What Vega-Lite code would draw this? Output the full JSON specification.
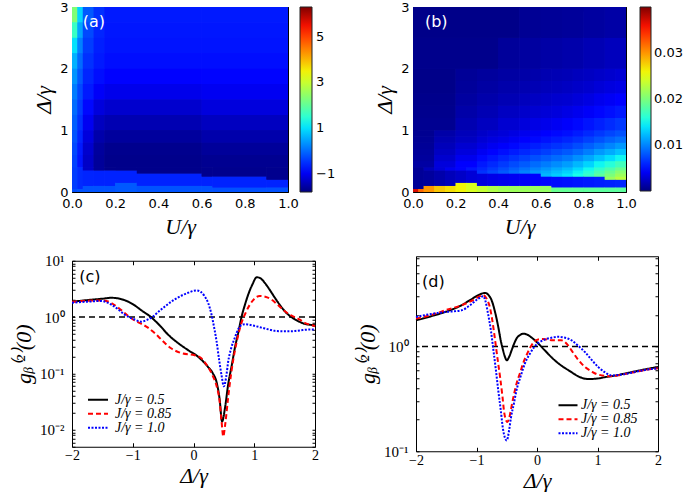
{
"$schema": "https://vega.github.io/schema/vega-lite/v6.json",
"background": "white",
"padding": {"left": 12, "top": 0, "right": 0, "bottom": 0},
"config": {
  "view": {"stroke": "black", "strokeWidth": 1},
  "axis": {"grid": false, "domain": false, "labelFlush": false, "tickColor": "black", "tickSize": -4, "tickWidth": 1, "labelPadding": 8, "labelFont": "DejaVu Sans", "labelFontSize": 13, "labelColor": "black", "titleFont": "Liberation Serif", "titleFontStyle": "italic", "titleFontWeight": "normal", "titleFontSize": 22, "titleColor": "black"},
  "legend": {"labelFont": "DejaVu Sans", "labelFontSize": 13, "labelColor": "black"}
},
"spacing": 15,
"resolve": {"scale": {"x": "independent", "y": "independent", "color": "independent", "strokeDash": "independent"}, "axis": {"x": "independent", "y": "independent"}, "legend": {"color": "independent", "strokeDash": "independent"}},
"vconcat": [
{
  "hconcat": [
  {
    "width": 216, "height": 185,
    "data": {"values": [
{"u0":0,"u1":0.025,"d0":2.75,"d1":3,"v":2.3},{"u0":0.025,"u1":0.05,"d0":2.75,"d1":3,"v":0.9},{"u0":0.05,"u1":0.1,"d0":2.75,"d1":3,"v":-0.15},{"u0":0.1,"u1":0.15,"d0":2.75,"d1":3,"v":-0.5},{"u0":0.15,"u1":0.6,"d0":2.75,"d1":3,"v":-0.7},{"u0":0.6,"u1":1,"d0":2.75,"d1":3,"v":-0.7},
{"u0":0,"u1":0.025,"d0":2.5,"d1":2.75,"v":1.6},{"u0":0.025,"u1":0.05,"d0":2.5,"d1":2.75,"v":0.5},{"u0":0.05,"u1":0.1,"d0":2.5,"d1":2.75,"v":-0.3},{"u0":0.1,"u1":0.15,"d0":2.5,"d1":2.75,"v":-0.6},{"u0":0.15,"u1":0.6,"d0":2.5,"d1":2.75,"v":-0.72},{"u0":0.6,"u1":1,"d0":2.5,"d1":2.75,"v":-0.72},
{"u0":0,"u1":0.025,"d0":2.25,"d1":2.5,"v":1.0},{"u0":0.025,"u1":0.05,"d0":2.25,"d1":2.5,"v":0.2},{"u0":0.05,"u1":0.1,"d0":2.25,"d1":2.5,"v":-0.4},{"u0":0.1,"u1":0.15,"d0":2.25,"d1":2.5,"v":-0.65},{"u0":0.15,"u1":0.6,"d0":2.25,"d1":2.5,"v":-0.75},{"u0":0.6,"u1":1,"d0":2.25,"d1":2.5,"v":-0.75},
{"u0":0,"u1":0.025,"d0":2.0,"d1":2.25,"v":0.6},{"u0":0.025,"u1":0.05,"d0":2.0,"d1":2.25,"v":0.0},{"u0":0.05,"u1":0.1,"d0":2.0,"d1":2.25,"v":-0.5},{"u0":0.1,"u1":0.15,"d0":2.0,"d1":2.25,"v":-0.7},{"u0":0.15,"u1":0.6,"d0":2.0,"d1":2.25,"v":-0.8},{"u0":0.6,"u1":1,"d0":2.0,"d1":2.25,"v":-0.8},
{"u0":0,"u1":0.025,"d0":1.75,"d1":2.0,"v":0.35},{"u0":0.025,"u1":0.05,"d0":1.75,"d1":2.0,"v":-0.15},{"u0":0.05,"u1":0.1,"d0":1.75,"d1":2.0,"v":-0.6},{"u0":0.1,"u1":0.15,"d0":1.75,"d1":2.0,"v":-0.8},{"u0":0.15,"u1":0.6,"d0":1.75,"d1":2.0,"v":-0.9},{"u0":0.6,"u1":1,"d0":1.75,"d1":2.0,"v":-0.88},
{"u0":0,"u1":0.025,"d0":1.5,"d1":1.75,"v":0.15},{"u0":0.025,"u1":0.05,"d0":1.5,"d1":1.75,"v":-0.3},{"u0":0.05,"u1":0.1,"d0":1.5,"d1":1.75,"v":-0.7},{"u0":0.1,"u1":0.15,"d0":1.5,"d1":1.75,"v":-0.95},{"u0":0.15,"u1":0.6,"d0":1.5,"d1":1.75,"v":-1.05},{"u0":0.6,"u1":1,"d0":1.5,"d1":1.75,"v":-1.0},
{"u0":0,"u1":0.025,"d0":1.25,"d1":1.5,"v":0.0},{"u0":0.025,"u1":0.05,"d0":1.25,"d1":1.5,"v":-0.4},{"u0":0.05,"u1":0.1,"d0":1.25,"d1":1.5,"v":-0.85},{"u0":0.1,"u1":0.15,"d0":1.25,"d1":1.5,"v":-1.15},{"u0":0.15,"u1":0.6,"d0":1.25,"d1":1.5,"v":-1.25},{"u0":0.6,"u1":1,"d0":1.25,"d1":1.5,"v":-1.15},
{"u0":0,"u1":0.025,"d0":1.0,"d1":1.25,"v":-0.1},{"u0":0.025,"u1":0.05,"d0":1.0,"d1":1.25,"v":-0.5},{"u0":0.05,"u1":0.1,"d0":1.0,"d1":1.25,"v":-1.0},{"u0":0.1,"u1":0.15,"d0":1.0,"d1":1.25,"v":-1.35},{"u0":0.15,"u1":0.6,"d0":1.0,"d1":1.25,"v":-1.45},{"u0":0.6,"u1":1,"d0":1.0,"d1":1.25,"v":-1.35},
{"u0":0,"u1":0.025,"d0":0.8,"d1":1.0,"v":-0.2},{"u0":0.025,"u1":0.05,"d0":0.8,"d1":1.0,"v":-0.6},{"u0":0.05,"u1":0.1,"d0":0.8,"d1":1.0,"v":-1.15},{"u0":0.1,"u1":0.15,"d0":0.8,"d1":1.0,"v":-1.5},{"u0":0.15,"u1":0.6,"d0":0.8,"d1":1.0,"v":-1.6},{"u0":0.6,"u1":1,"d0":0.8,"d1":1.0,"v":-1.5},
{"u0":0,"u1":0.025,"d0":0.6,"d1":0.8,"v":-0.3},{"u0":0.025,"u1":0.05,"d0":0.6,"d1":0.8,"v":-0.7},{"u0":0.05,"u1":0.1,"d0":0.6,"d1":0.8,"v":-1.25},{"u0":0.1,"u1":0.15,"d0":0.6,"d1":0.8,"v":-1.6},{"u0":0.15,"u1":0.6,"d0":0.6,"d1":0.8,"v":-1.7},{"u0":0.6,"u1":1,"d0":0.6,"d1":0.8,"v":-1.62},
{"u0":0,"u1":0.025,"d0":0.4,"d1":0.6,"v":-0.35},{"u0":0.025,"u1":0.05,"d0":0.4,"d1":0.6,"v":-0.75},{"u0":0.05,"u1":0.1,"d0":0.4,"d1":0.6,"v":-1.3},{"u0":0.1,"u1":0.15,"d0":0.4,"d1":0.6,"v":-1.62},{"u0":0.15,"u1":0.6,"d0":0.4,"d1":0.6,"v":-1.72},{"u0":0.6,"u1":1,"d0":0.4,"d1":0.6,"v":-1.68},
{"u0":0,"u1":0.025,"d0":0,"d1":0.05,"v":-0.25},{"u0":0,"u1":0.025,"d0":0.05,"d1":0.4,"v":-0.4},
{"u0":0.025,"u1":0.05,"d0":0,"d1":0.05,"v":-0.2},{"u0":0.025,"u1":0.05,"d0":0.05,"d1":0.4,"v":-0.55},
{"u0":0.05,"u1":0.1,"d0":0,"d1":0.1,"v":-0.2},{"u0":0.05,"u1":0.1,"d0":0.1,"d1":0.35,"v":-0.6},{"u0":0.05,"u1":0.1,"d0":0.35,"d1":0.4,"v":-1.3},
{"u0":0.1,"u1":0.15,"d0":0,"d1":0.1,"v":-0.2},{"u0":0.1,"u1":0.15,"d0":0.1,"d1":0.35,"v":-0.62},{"u0":0.1,"u1":0.15,"d0":0.35,"d1":0.4,"v":-1.62},
{"u0":0.15,"u1":0.2,"d0":0,"d1":0.1,"v":-0.2},{"u0":0.15,"u1":0.2,"d0":0.1,"d1":0.35,"v":-0.62},{"u0":0.15,"u1":0.2,"d0":0.35,"d1":0.4,"v":-1.72},
{"u0":0.2,"u1":0.3,"d0":0,"d1":0.15,"v":-0.15},{"u0":0.2,"u1":0.3,"d0":0.15,"d1":0.35,"v":-0.62},{"u0":0.2,"u1":0.3,"d0":0.35,"d1":0.4,"v":-1.72},
{"u0":0.3,"u1":0.6,"d0":0,"d1":0.1,"v":-0.2},{"u0":0.3,"u1":0.6,"d0":0.1,"d1":0.3,"v":-0.62},{"u0":0.3,"u1":0.6,"d0":0.3,"d1":0.4,"v":-1.72},
{"u0":0.6,"u1":0.65,"d0":0,"d1":0.1,"v":-0.2},{"u0":0.6,"u1":0.65,"d0":0.1,"d1":0.25,"v":-0.62},{"u0":0.6,"u1":0.65,"d0":0.25,"d1":0.4,"v":-1.7},
{"u0":0.65,"u1":0.9,"d0":0,"d1":0.075,"v":-0.22},{"u0":0.65,"u1":0.9,"d0":0.075,"d1":0.25,"v":-0.62},{"u0":0.65,"u1":0.9,"d0":0.25,"d1":0.4,"v":-1.7},
{"u0":0.9,"u1":1,"d0":0,"d1":0.075,"v":-0.22},{"u0":0.9,"u1":1,"d0":0.075,"d1":0.2,"v":-0.62},{"u0":0.9,"u1":1,"d0":0.2,"d1":0.4,"v":-1.7}
    ]},
    "layer": [
    {
      "encoding": {
        "x": {"field": "u0", "type": "quantitative", "scale": {"domain": [0, 1], "nice": false, "zero": false}, "axis": {"values": [0, 0.2, 0.4, 0.6, 0.8, 1], "format": ".1f", "title": "U/γ", "titlePadding": 6, "labelPadding": 9}},
        "x2": {"field": "u1"},
        "y": {"field": "d0", "type": "quantitative", "scale": {"domain": [0, 3], "nice": false}, "axis": {"values": [0, 1, 2, 3], "format": "d", "title": "Δ/γ", "titlePadding": 4}},
        "y2": {"field": "d1"},
        "color": {"field": "v", "type": "quantitative", "scale": {"domain": [-1.8, -0.909, 0.954, 1.2375, 2.25, 3.384, 4.275, 5.409, 6.3], "range": ["#000080", "#0000ff", "#00dbff", "#14ffef", "#7bff7b", "#f0ff08", "#ff9600", "#ff1200", "#800000"], "interpolate": "rgb"},
          "legend": {"type": "gradient", "title": null, "orient": "right", "offset": 11, "padding": 0, "gradientLength": 185, "gradientThickness": 12, "values": [-1, 1, 3, 5], "labelOverlap": false, "labelOffset": 4, "gradientStrokeColor": "#222", "gradientStrokeWidth": 1}}
      },
      "layer": [{"mark": {"type": "rect"}}, {"mark": {"type": "rect"}}, {"mark": {"type": "rect"}}]
    },
    {
      "data": {"values": [{"lab": "(a)"}]},
      "mark": {"type": "text", "color": "white", "fontSize": 16, "font": "DejaVu Sans", "align": "left", "baseline": "middle"},
      "encoding": {
        "x": {"datum": 0.05, "type": "quantitative", "axis": {"orient": "top", "values": [0, 0.2, 0.4, 0.6, 0.8, 1], "labels": false, "title": null}},
        "y": {"datum": 2.76, "type": "quantitative", "axis": {"orient": "right", "values": [0, 1, 2, 3], "labels": false, "title": null}},
        "text": {"field": "lab"}}
    }
    ],
    "resolve": {"axis": {"x": "independent", "y": "independent"}}
  },
  {
    "width": 213, "height": 185,
    "data": {"values": [
{"u0":0,"u1":0.025,"d0":0,"d1":0.05,"v":0.037},{"u0":0.025,"u1":0.05,"d0":0,"d1":0.05,"v":0.032},{"u0":0,"u1":0.05,"d0":0.05,"d1":0.4,"v":0.0008},
{"u0":0.05,"u1":0.1,"d0":0,"d1":0.1,"v":0.03},{"u0":0.05,"u1":0.1,"d0":0.1,"d1":0.35,"v":0.001},{"u0":0.05,"u1":0.1,"d0":0.35,"d1":0.4,"v":0.002},
{"u0":0.1,"u1":0.15,"d0":0,"d1":0.1,"v":0.028},{"u0":0.1,"u1":0.15,"d0":0.1,"d1":0.35,"v":0.0015},{"u0":0.1,"u1":0.15,"d0":0.35,"d1":0.4,"v":0.0031},
{"u0":0.15,"u1":0.2,"d0":0,"d1":0.1,"v":0.027},{"u0":0.15,"u1":0.2,"d0":0.1,"d1":0.35,"v":0.002},{"u0":0.15,"u1":0.2,"d0":0.35,"d1":0.4,"v":0.0039},
{"u0":0.2,"u1":0.25,"d0":0,"d1":0.15,"v":0.026},{"u0":0.2,"u1":0.25,"d0":0.15,"d1":0.35,"v":0.0025},{"u0":0.2,"u1":0.25,"d0":0.35,"d1":0.4,"v":0.0045},
{"u0":0.25,"u1":0.3,"d0":0,"d1":0.15,"v":0.0245},{"u0":0.25,"u1":0.3,"d0":0.15,"d1":0.35,"v":0.003},{"u0":0.25,"u1":0.3,"d0":0.35,"d1":0.4,"v":0.0053},
{"u0":0.3,"u1":0.35,"d0":0,"d1":0.1,"v":0.0235},{"u0":0.3,"u1":0.35,"d0":0.1,"d1":0.3,"v":0.0033},{"u0":0.3,"u1":0.35,"d0":0.3,"d1":0.35,"v":0.0065},{"u0":0.3,"u1":0.35,"d0":0.35,"d1":0.4,"v":0.006},
{"u0":0.35,"u1":0.4,"d0":0,"d1":0.1,"v":0.0225},{"u0":0.35,"u1":0.4,"d0":0.1,"d1":0.3,"v":0.0036},{"u0":0.35,"u1":0.4,"d0":0.3,"d1":0.35,"v":0.0074},{"u0":0.35,"u1":0.4,"d0":0.35,"d1":0.4,"v":0.0068},
{"u0":0.4,"u1":0.45,"d0":0,"d1":0.1,"v":0.0218},{"u0":0.4,"u1":0.45,"d0":0.1,"d1":0.3,"v":0.0038},{"u0":0.4,"u1":0.45,"d0":0.3,"d1":0.35,"v":0.0082},{"u0":0.4,"u1":0.45,"d0":0.35,"d1":0.4,"v":0.0076},
{"u0":0.45,"u1":0.5,"d0":0,"d1":0.1,"v":0.0216},{"u0":0.45,"u1":0.5,"d0":0.1,"d1":0.3,"v":0.004},{"u0":0.45,"u1":0.5,"d0":0.3,"d1":0.35,"v":0.009},{"u0":0.45,"u1":0.5,"d0":0.35,"d1":0.4,"v":0.0084},
{"u0":0.5,"u1":0.55,"d0":0,"d1":0.1,"v":0.0215},{"u0":0.5,"u1":0.55,"d0":0.1,"d1":0.3,"v":0.0042},{"u0":0.5,"u1":0.55,"d0":0.3,"d1":0.35,"v":0.0099},{"u0":0.5,"u1":0.55,"d0":0.35,"d1":0.4,"v":0.0092},
{"u0":0.55,"u1":0.6,"d0":0,"d1":0.1,"v":0.0214},{"u0":0.55,"u1":0.6,"d0":0.1,"d1":0.3,"v":0.0044},{"u0":0.55,"u1":0.6,"d0":0.3,"d1":0.35,"v":0.0107},{"u0":0.55,"u1":0.6,"d0":0.35,"d1":0.4,"v":0.0099},
{"u0":0.6,"u1":0.65,"d0":0,"d1":0.1,"v":0.0212},{"u0":0.6,"u1":0.65,"d0":0.1,"d1":0.25,"v":0.0046},{"u0":0.6,"u1":0.65,"d0":0.25,"d1":0.3,"v":0.0121},{"u0":0.6,"u1":0.65,"d0":0.3,"d1":0.35,"v":0.0116},{"u0":0.6,"u1":0.65,"d0":0.35,"d1":0.4,"v":0.0107},
{"u0":0.65,"u1":0.7,"d0":0,"d1":0.075,"v":0.019},{"u0":0.65,"u1":0.7,"d0":0.075,"d1":0.25,"v":0.0048},{"u0":0.65,"u1":0.7,"d0":0.25,"d1":0.3,"v":0.013},{"u0":0.65,"u1":0.7,"d0":0.3,"d1":0.35,"v":0.0124},{"u0":0.65,"u1":0.7,"d0":0.35,"d1":0.4,"v":0.0115},
{"u0":0.7,"u1":0.75,"d0":0,"d1":0.075,"v":0.0188},{"u0":0.7,"u1":0.75,"d0":0.075,"d1":0.25,"v":0.005},{"u0":0.7,"u1":0.75,"d0":0.25,"d1":0.3,"v":0.0139},{"u0":0.7,"u1":0.75,"d0":0.3,"d1":0.35,"v":0.0132},{"u0":0.7,"u1":0.75,"d0":0.35,"d1":0.4,"v":0.0123},
{"u0":0.75,"u1":0.8,"d0":0,"d1":0.075,"v":0.0187},{"u0":0.75,"u1":0.8,"d0":0.075,"d1":0.25,"v":0.0052},{"u0":0.75,"u1":0.8,"d0":0.25,"d1":0.3,"v":0.0152},{"u0":0.75,"u1":0.8,"d0":0.3,"d1":0.35,"v":0.0145},{"u0":0.75,"u1":0.8,"d0":0.35,"d1":0.4,"v":0.0135},
{"u0":0.8,"u1":0.85,"d0":0,"d1":0.075,"v":0.0186},{"u0":0.8,"u1":0.85,"d0":0.075,"d1":0.25,"v":0.0054},{"u0":0.8,"u1":0.85,"d0":0.25,"d1":0.3,"v":0.0167},{"u0":0.8,"u1":0.85,"d0":0.3,"d1":0.35,"v":0.016},{"u0":0.8,"u1":0.85,"d0":0.35,"d1":0.4,"v":0.0148},
{"u0":0.85,"u1":0.9,"d0":0,"d1":0.075,"v":0.0185},{"u0":0.85,"u1":0.9,"d0":0.075,"d1":0.25,"v":0.0056},{"u0":0.85,"u1":0.9,"d0":0.25,"d1":0.3,"v":0.0185},{"u0":0.85,"u1":0.9,"d0":0.3,"d1":0.35,"v":0.0176},{"u0":0.85,"u1":0.9,"d0":0.35,"d1":0.4,"v":0.0164},
{"u0":0.9,"u1":0.95,"d0":0,"d1":0.075,"v":0.0185},{"u0":0.9,"u1":0.95,"d0":0.075,"d1":0.2,"v":0.0058},{"u0":0.9,"u1":0.95,"d0":0.2,"d1":0.25,"v":0.0214},{"u0":0.9,"u1":0.95,"d0":0.25,"d1":0.3,"v":0.02},{"u0":0.9,"u1":0.95,"d0":0.3,"d1":0.35,"v":0.0191},{"u0":0.9,"u1":0.95,"d0":0.35,"d1":0.4,"v":0.0177},
{"u0":0.95,"u1":1,"d0":0,"d1":0.075,"v":0.0185},{"u0":0.95,"u1":1,"d0":0.075,"d1":0.2,"v":0.006},{"u0":0.95,"u1":1,"d0":0.2,"d1":0.25,"v":0.023},{"u0":0.95,"u1":1,"d0":0.25,"d1":0.3,"v":0.0216},{"u0":0.95,"u1":1,"d0":0.3,"d1":0.35,"v":0.0206},{"u0":0.95,"u1":1,"d0":0.35,"d1":0.4,"v":0.0191},
{"u0":0,"u1":0.1,"d0":0.4,"d1":0.5,"v":0.0012},{"u0":0.1,"u1":0.2,"d0":0.4,"d1":0.5,"v":0.0032},{"u0":0.2,"u1":0.3,"d0":0.4,"d1":0.5,"v":0.0044},{"u0":0.3,"u1":0.35,"d0":0.4,"d1":0.5,"v":0.0054},{"u0":0.35,"u1":0.4,"d0":0.4,"d1":0.5,"v":0.0061},{"u0":0.4,"u1":0.45,"d0":0.4,"d1":0.5,"v":0.0068},{"u0":0.45,"u1":0.5,"d0":0.4,"d1":0.5,"v":0.0075},{"u0":0.5,"u1":0.55,"d0":0.4,"d1":0.5,"v":0.0082},{"u0":0.55,"u1":0.6,"d0":0.4,"d1":0.5,"v":0.0089},{"u0":0.6,"u1":0.65,"d0":0.4,"d1":0.5,"v":0.0096},{"u0":0.65,"u1":0.7,"d0":0.4,"d1":0.5,"v":0.0103},{"u0":0.7,"u1":0.75,"d0":0.4,"d1":0.5,"v":0.011},{"u0":0.75,"u1":0.8,"d0":0.4,"d1":0.5,"v":0.0121},{"u0":0.8,"u1":0.85,"d0":0.4,"d1":0.5,"v":0.0133},{"u0":0.85,"u1":0.9,"d0":0.4,"d1":0.5,"v":0.0147},{"u0":0.9,"u1":0.95,"d0":0.4,"d1":0.5,"v":0.0159},{"u0":0.95,"u1":1,"d0":0.4,"d1":0.5,"v":0.0172},
{"u0":0,"u1":0.1,"d0":0.5,"d1":0.6,"v":0.001},{"u0":0.1,"u1":0.2,"d0":0.5,"d1":0.6,"v":0.0027},{"u0":0.2,"u1":0.3,"d0":0.5,"d1":0.6,"v":0.0038},{"u0":0.3,"u1":0.35,"d0":0.5,"d1":0.6,"v":0.0047},{"u0":0.35,"u1":0.4,"d0":0.5,"d1":0.6,"v":0.0053},{"u0":0.4,"u1":0.45,"d0":0.5,"d1":0.6,"v":0.0059},{"u0":0.45,"u1":0.5,"d0":0.5,"d1":0.6,"v":0.0065},{"u0":0.5,"u1":0.55,"d0":0.5,"d1":0.6,"v":0.0071},{"u0":0.55,"u1":0.6,"d0":0.5,"d1":0.6,"v":0.0077},{"u0":0.6,"u1":0.65,"d0":0.5,"d1":0.6,"v":0.0083},{"u0":0.65,"u1":0.7,"d0":0.5,"d1":0.6,"v":0.0089},{"u0":0.7,"u1":0.75,"d0":0.5,"d1":0.6,"v":0.0095},{"u0":0.75,"u1":0.8,"d0":0.5,"d1":0.6,"v":0.0104},{"u0":0.8,"u1":0.85,"d0":0.5,"d1":0.6,"v":0.0114},{"u0":0.85,"u1":0.9,"d0":0.5,"d1":0.6,"v":0.0126},{"u0":0.9,"u1":0.95,"d0":0.5,"d1":0.6,"v":0.0137},{"u0":0.95,"u1":1,"d0":0.5,"d1":0.6,"v":0.0147},
{"u0":0,"u1":0.1,"d0":0.6,"d1":0.7,"v":0.0009},{"u0":0.1,"u1":0.2,"d0":0.6,"d1":0.7,"v":0.0023},{"u0":0.2,"u1":0.3,"d0":0.6,"d1":0.7,"v":0.0032},{"u0":0.3,"u1":0.35,"d0":0.6,"d1":0.7,"v":0.004},{"u0":0.35,"u1":0.4,"d0":0.6,"d1":0.7,"v":0.0045},{"u0":0.4,"u1":0.45,"d0":0.6,"d1":0.7,"v":0.005},{"u0":0.45,"u1":0.5,"d0":0.6,"d1":0.7,"v":0.0055},{"u0":0.5,"u1":0.55,"d0":0.6,"d1":0.7,"v":0.006},{"u0":0.55,"u1":0.6,"d0":0.6,"d1":0.7,"v":0.0065},{"u0":0.6,"u1":0.65,"d0":0.6,"d1":0.7,"v":0.007},{"u0":0.65,"u1":0.7,"d0":0.6,"d1":0.7,"v":0.0076},{"u0":0.7,"u1":0.75,"d0":0.6,"d1":0.7,"v":0.0081},{"u0":0.75,"u1":0.8,"d0":0.6,"d1":0.7,"v":0.0088},{"u0":0.8,"u1":0.85,"d0":0.6,"d1":0.7,"v":0.0097},{"u0":0.85,"u1":0.9,"d0":0.6,"d1":0.7,"v":0.0108},{"u0":0.9,"u1":0.95,"d0":0.6,"d1":0.7,"v":0.0116},{"u0":0.95,"u1":1,"d0":0.6,"d1":0.7,"v":0.0125},
{"u0":0,"u1":0.1,"d0":0.7,"d1":0.8,"v":0.0008},{"u0":0.1,"u1":0.2,"d0":0.7,"d1":0.8,"v":0.002},{"u0":0.2,"u1":0.3,"d0":0.7,"d1":0.8,"v":0.0028},{"u0":0.3,"u1":0.35,"d0":0.7,"d1":0.8,"v":0.0034},{"u0":0.35,"u1":0.4,"d0":0.7,"d1":0.8,"v":0.0039},{"u0":0.4,"u1":0.45,"d0":0.7,"d1":0.8,"v":0.0043},{"u0":0.45,"u1":0.5,"d0":0.7,"d1":0.8,"v":0.0047},{"u0":0.5,"u1":0.55,"d0":0.7,"d1":0.8,"v":0.0052},{"u0":0.55,"u1":0.6,"d0":0.7,"d1":0.8,"v":0.0056},{"u0":0.6,"u1":0.65,"d0":0.7,"d1":0.8,"v":0.0061},{"u0":0.65,"u1":0.7,"d0":0.7,"d1":0.8,"v":0.0065},{"u0":0.7,"u1":0.75,"d0":0.7,"d1":0.8,"v":0.0069},{"u0":0.75,"u1":0.8,"d0":0.7,"d1":0.8,"v":0.0076},{"u0":0.8,"u1":0.85,"d0":0.7,"d1":0.8,"v":0.0084},{"u0":0.85,"u1":0.9,"d0":0.7,"d1":0.8,"v":0.0092},{"u0":0.9,"u1":0.95,"d0":0.7,"d1":0.8,"v":0.01},{"u0":0.95,"u1":1,"d0":0.7,"d1":0.8,"v":0.0108},
{"u0":0,"u1":0.1,"d0":0.8,"d1":0.9,"v":0.0007},{"u0":0.1,"u1":0.2,"d0":0.8,"d1":0.9,"v":0.0017},{"u0":0.2,"u1":0.3,"d0":0.8,"d1":0.9,"v":0.0023},{"u0":0.3,"u1":0.35,"d0":0.8,"d1":0.9,"v":0.0029},{"u0":0.35,"u1":0.4,"d0":0.8,"d1":0.9,"v":0.0033},{"u0":0.4,"u1":0.45,"d0":0.8,"d1":0.9,"v":0.0036},{"u0":0.45,"u1":0.5,"d0":0.8,"d1":0.9,"v":0.004},{"u0":0.5,"u1":0.55,"d0":0.8,"d1":0.9,"v":0.0044},{"u0":0.55,"u1":0.6,"d0":0.8,"d1":0.9,"v":0.0047},{"u0":0.6,"u1":0.65,"d0":0.8,"d1":0.9,"v":0.0051},{"u0":0.65,"u1":0.7,"d0":0.8,"d1":0.9,"v":0.0055},{"u0":0.7,"u1":0.75,"d0":0.8,"d1":0.9,"v":0.0059},{"u0":0.75,"u1":0.8,"d0":0.8,"d1":0.9,"v":0.0064},{"u0":0.8,"u1":0.85,"d0":0.8,"d1":0.9,"v":0.0071},{"u0":0.85,"u1":0.9,"d0":0.8,"d1":0.9,"v":0.0078},{"u0":0.9,"u1":0.95,"d0":0.8,"d1":0.9,"v":0.0085},{"u0":0.95,"u1":1,"d0":0.8,"d1":0.9,"v":0.0091},
{"u0":0,"u1":0.1,"d0":0.9,"d1":1.0,"v":0.0006},{"u0":0.1,"u1":0.2,"d0":0.9,"d1":1.0,"v":0.0014},{"u0":0.2,"u1":0.3,"d0":0.9,"d1":1.0,"v":0.002},{"u0":0.3,"u1":0.35,"d0":0.9,"d1":1.0,"v":0.0025},{"u0":0.35,"u1":0.4,"d0":0.9,"d1":1.0,"v":0.0028},{"u0":0.4,"u1":0.45,"d0":0.9,"d1":1.0,"v":0.0031},{"u0":0.45,"u1":0.5,"d0":0.9,"d1":1.0,"v":0.0034},{"u0":0.5,"u1":0.55,"d0":0.9,"d1":1.0,"v":0.0038},{"u0":0.55,"u1":0.6,"d0":0.9,"d1":1.0,"v":0.0041},{"u0":0.6,"u1":0.65,"d0":0.9,"d1":1.0,"v":0.0044},{"u0":0.65,"u1":0.7,"d0":0.9,"d1":1.0,"v":0.0047},{"u0":0.7,"u1":0.75,"d0":0.9,"d1":1.0,"v":0.005},{"u0":0.75,"u1":0.8,"d0":0.9,"d1":1.0,"v":0.0055},{"u0":0.8,"u1":0.85,"d0":0.9,"d1":1.0,"v":0.0061},{"u0":0.85,"u1":0.9,"d0":0.9,"d1":1.0,"v":0.0067},{"u0":0.9,"u1":0.95,"d0":0.9,"d1":1.0,"v":0.0073},{"u0":0.95,"u1":1,"d0":0.9,"d1":1.0,"v":0.0078},
{"u0":0,"u1":0.2,"d0":1.0,"d1":1.2,"v":0.0006},{"u0":0.2,"u1":0.3,"d0":1.0,"d1":1.2,"v":0.0017},{"u0":0.3,"u1":0.4,"d0":1.0,"d1":1.2,"v":0.0022},{"u0":0.4,"u1":0.5,"d0":1.0,"d1":1.2,"v":0.0028},{"u0":0.5,"u1":0.55,"d0":1.0,"d1":1.2,"v":0.0032},{"u0":0.55,"u1":0.6,"d0":1.0,"d1":1.2,"v":0.0035},{"u0":0.6,"u1":0.65,"d0":1.0,"d1":1.2,"v":0.0037},{"u0":0.65,"u1":0.7,"d0":1.0,"d1":1.2,"v":0.004},{"u0":0.7,"u1":0.75,"d0":1.0,"d1":1.2,"v":0.0043},{"u0":0.75,"u1":0.8,"d0":1.0,"d1":1.2,"v":0.0047},{"u0":0.8,"u1":0.85,"d0":1.0,"d1":1.2,"v":0.0052},{"u0":0.85,"u1":0.9,"d0":1.0,"d1":1.2,"v":0.0057},{"u0":0.9,"u1":0.95,"d0":1.0,"d1":1.2,"v":0.0062},{"u0":0.95,"u1":1,"d0":1.0,"d1":1.2,"v":0.0067},
{"u0":0,"u1":0.2,"d0":1.2,"d1":1.4,"v":0.0005},{"u0":0.2,"u1":0.3,"d0":1.2,"d1":1.4,"v":0.0014},{"u0":0.3,"u1":0.4,"d0":1.2,"d1":1.4,"v":0.0018},{"u0":0.4,"u1":0.5,"d0":1.2,"d1":1.4,"v":0.0023},{"u0":0.5,"u1":0.55,"d0":1.2,"d1":1.4,"v":0.0026},{"u0":0.55,"u1":0.6,"d0":1.2,"d1":1.4,"v":0.0028},{"u0":0.6,"u1":0.65,"d0":1.2,"d1":1.4,"v":0.003},{"u0":0.65,"u1":0.7,"d0":1.2,"d1":1.4,"v":0.0032},{"u0":0.7,"u1":0.75,"d0":1.2,"d1":1.4,"v":0.0035},{"u0":0.75,"u1":0.8,"d0":1.2,"d1":1.4,"v":0.0038},{"u0":0.8,"u1":0.85,"d0":1.2,"d1":1.4,"v":0.0042},{"u0":0.85,"u1":0.9,"d0":1.2,"d1":1.4,"v":0.0046},{"u0":0.9,"u1":0.95,"d0":1.2,"d1":1.4,"v":0.005},{"u0":0.95,"u1":1,"d0":1.2,"d1":1.4,"v":0.0054},
{"u0":0,"u1":0.2,"d0":1.4,"d1":1.6,"v":0.0004},{"u0":0.2,"u1":0.3,"d0":1.4,"d1":1.6,"v":0.0011},{"u0":0.3,"u1":0.4,"d0":1.4,"d1":1.6,"v":0.0015},{"u0":0.4,"u1":0.5,"d0":1.4,"d1":1.6,"v":0.0018},{"u0":0.5,"u1":0.55,"d0":1.4,"d1":1.6,"v":0.0021},{"u0":0.55,"u1":0.6,"d0":1.4,"d1":1.6,"v":0.0023},{"u0":0.6,"u1":0.65,"d0":1.4,"d1":1.6,"v":0.0025},{"u0":0.65,"u1":0.7,"d0":1.4,"d1":1.6,"v":0.0027},{"u0":0.7,"u1":0.75,"d0":1.4,"d1":1.6,"v":0.0028},{"u0":0.75,"u1":0.8,"d0":1.4,"d1":1.6,"v":0.0031},{"u0":0.8,"u1":0.85,"d0":1.4,"d1":1.6,"v":0.0034},{"u0":0.85,"u1":0.9,"d0":1.4,"d1":1.6,"v":0.0038},{"u0":0.9,"u1":0.95,"d0":1.4,"d1":1.6,"v":0.0041},{"u0":0.95,"u1":1,"d0":1.4,"d1":1.6,"v":0.0044},
{"u0":0,"u1":0.2,"d0":1.6,"d1":1.8,"v":0.0003},{"u0":0.2,"u1":0.3,"d0":1.6,"d1":1.8,"v":0.0009},{"u0":0.3,"u1":0.4,"d0":1.6,"d1":1.8,"v":0.0012},{"u0":0.4,"u1":0.5,"d0":1.6,"d1":1.8,"v":0.0015},{"u0":0.5,"u1":0.55,"d0":1.6,"d1":1.8,"v":0.0017},{"u0":0.55,"u1":0.6,"d0":1.6,"d1":1.8,"v":0.0018},{"u0":0.6,"u1":0.65,"d0":1.6,"d1":1.8,"v":0.002},{"u0":0.65,"u1":0.7,"d0":1.6,"d1":1.8,"v":0.0021},{"u0":0.7,"u1":0.75,"d0":1.6,"d1":1.8,"v":0.0023},{"u0":0.75,"u1":0.8,"d0":1.6,"d1":1.8,"v":0.0025},{"u0":0.8,"u1":0.85,"d0":1.6,"d1":1.8,"v":0.0027},{"u0":0.85,"u1":0.9,"d0":1.6,"d1":1.8,"v":0.003},{"u0":0.9,"u1":0.95,"d0":1.6,"d1":1.8,"v":0.0033},{"u0":0.95,"u1":1,"d0":1.6,"d1":1.8,"v":0.0035},
{"u0":0,"u1":0.2,"d0":1.8,"d1":2.0,"v":0.0003},{"u0":0.2,"u1":0.3,"d0":1.8,"d1":2.0,"v":0.0008},{"u0":0.3,"u1":0.4,"d0":1.8,"d1":2.0,"v":0.001},{"u0":0.4,"u1":0.5,"d0":1.8,"d1":2.0,"v":0.0012},{"u0":0.5,"u1":0.55,"d0":1.8,"d1":2.0,"v":0.0014},{"u0":0.55,"u1":0.6,"d0":1.8,"d1":2.0,"v":0.0015},{"u0":0.6,"u1":0.65,"d0":1.8,"d1":2.0,"v":0.0017},{"u0":0.65,"u1":0.7,"d0":1.8,"d1":2.0,"v":0.0018},{"u0":0.7,"u1":0.75,"d0":1.8,"d1":2.0,"v":0.0019},{"u0":0.75,"u1":0.8,"d0":1.8,"d1":2.0,"v":0.0021},{"u0":0.8,"u1":0.85,"d0":1.8,"d1":2.0,"v":0.0023},{"u0":0.85,"u1":0.9,"d0":1.8,"d1":2.0,"v":0.0025},{"u0":0.9,"u1":0.95,"d0":1.8,"d1":2.0,"v":0.0027},{"u0":0.95,"u1":1,"d0":1.8,"d1":2.0,"v":0.0029},
{"u0":0,"u1":0.4,"d0":2.0,"d1":2.5,"v":0.0004},{"u0":0.4,"u1":0.5,"d0":2.0,"d1":2.5,"v":0.0009},{"u0":0.5,"u1":0.6,"d0":2.0,"d1":2.5,"v":0.0011},{"u0":0.6,"u1":0.7,"d0":2.0,"d1":2.5,"v":0.0013},{"u0":0.7,"u1":0.8,"d0":2.0,"d1":2.5,"v":0.0015},{"u0":0.8,"u1":0.9,"d0":2.0,"d1":2.5,"v":0.0018},{"u0":0.9,"u1":1,"d0":2.0,"d1":2.5,"v":0.0021},
{"u0":0,"u1":0.5,"d0":2.5,"d1":3.0,"v":0.0003},{"u0":0.5,"u1":0.6,"d0":2.5,"d1":3.0,"v":0.0007},{"u0":0.6,"u1":0.7,"d0":2.5,"d1":3.0,"v":0.0008},{"u0":0.7,"u1":0.8,"d0":2.5,"d1":3.0,"v":0.0009},{"u0":0.8,"u1":0.9,"d0":2.5,"d1":3.0,"v":0.0011},{"u0":0.9,"u1":1,"d0":2.5,"d1":3.0,"v":0.0013}
    ]},
    "layer": [
    {
      "encoding": {
        "x": {"field": "u0", "type": "quantitative", "scale": {"domain": [0, 1], "nice": false, "zero": false}, "axis": {"values": [0, 0.2, 0.4, 0.6, 0.8, 1], "format": ".1f", "title": "U/γ", "titlePadding": 6, "labelPadding": 9}},
        "x2": {"field": "u1"},
        "y": {"field": "d0", "type": "quantitative", "scale": {"domain": [0, 3], "nice": false}, "axis": {"values": [0, 1, 2, 3], "format": "d", "title": "Δ/γ", "titlePadding": 4}},
        "y2": {"field": "d1"},
        "color": {"field": "v", "type": "quantitative", "scale": {"domain": [0, 0.0044, 0.0136, 0.015, 0.02, 0.0256, 0.03, 0.0356, 0.04], "range": ["#000080", "#0000ff", "#00dbff", "#14ffef", "#7bff7b", "#f0ff08", "#ff9600", "#ff1200", "#800000"], "interpolate": "rgb"},
          "legend": {"type": "gradient", "title": null, "orient": "right", "offset": 13, "padding": 0, "gradientLength": 184, "gradientThickness": 11, "values": [0.01, 0.02, 0.03], "format": ".2f", "labelOverlap": false, "labelOffset": 3, "gradientStrokeColor": "#222", "gradientStrokeWidth": 1}}
      },
      "layer": [{"mark": {"type": "rect"}}, {"mark": {"type": "rect"}}, {"mark": {"type": "rect"}}]
    },
    {
      "data": {"values": [{"lab": "(b)"}]},
      "mark": {"type": "text", "color": "white", "fontSize": 16, "font": "DejaVu Sans", "align": "left", "baseline": "middle"},
      "encoding": {
        "x": {"datum": 0.056, "type": "quantitative", "axis": {"orient": "top", "values": [0, 0.2, 0.4, 0.6, 0.8, 1], "labels": false, "title": null}},
        "y": {"datum": 2.76, "type": "quantitative", "axis": {"orient": "right", "values": [0, 1, 2, 3], "labels": false, "title": null}},
        "text": {"field": "lab"}}
    }
    ],
    "resolve": {"axis": {"x": "independent", "y": "independent"}}
  }
  ],
  "spacing": 36,
  "resolve": {"scale": {"color": "independent", "x": "independent", "y": "independent"}, "axis": {"x": "independent", "y": "independent"}, "legend": {"color": "independent"}}
},
{
  "hconcat": [
  {
    "width": 243, "height": 186,
    "layer": [
    {
      "data": {"values": [{"g": 1}]},
      "mark": {"type": "rule", "color": "black", "strokeDash": [6, 4], "strokeWidth": 1.5},
      "encoding": {"y": {"field": "g", "type": "quantitative", "scale": {"type": "log", "domain": [0.005, 10], "nice": false}, "axis": null}}
    },
    {
      "data": {"values": [
{"x":-2,"g":1.87,"s":"J/γ = 0.5"},{"x":-1.75,"g":2.0,"s":"J/γ = 0.5"},{"x":-1.5,"g":2.12,"s":"J/γ = 0.5"},{"x":-1.35,"g":2.2,"s":"J/γ = 0.5"},{"x":-1.2,"g":2.1,"s":"J/γ = 0.5"},{"x":-1.0,"g":1.7,"s":"J/γ = 0.5"},{"x":-0.85,"g":1.3,"s":"J/γ = 0.5"},{"x":-0.7,"g":1.0,"s":"J/γ = 0.5"},{"x":-0.55,"g":0.7,"s":"J/γ = 0.5"},{"x":-0.42,"g":0.49,"s":"J/γ = 0.5"},{"x":-0.26,"g":0.35,"s":"J/γ = 0.5"},{"x":-0.09,"g":0.26,"s":"J/γ = 0.5"},{"x":0.07,"g":0.2,"s":"J/γ = 0.5"},{"x":0.24,"g":0.13,"s":"J/γ = 0.5"},{"x":0.32,"g":0.1,"s":"J/γ = 0.5"},{"x":0.38,"g":0.07,"s":"J/γ = 0.5"},{"x":0.43,"g":0.035,"s":"J/γ = 0.5"},{"x":0.47,"g":0.014,"s":"J/γ = 0.5"},{"x":0.52,"g":0.025,"s":"J/γ = 0.5"},{"x":0.57,"g":0.063,"s":"J/γ = 0.5"},{"x":0.63,"g":0.14,"s":"J/γ = 0.5"},{"x":0.68,"g":0.28,"s":"J/γ = 0.5"},{"x":0.74,"g":0.55,"s":"J/γ = 0.5"},{"x":0.79,"g":1.0,"s":"J/γ = 0.5"},{"x":0.85,"g":1.7,"s":"J/γ = 0.5"},{"x":0.9,"g":2.5,"s":"J/γ = 0.5"},{"x":0.97,"g":3.8,"s":"J/γ = 0.5"},{"x":1.04,"g":5.1,"s":"J/γ = 0.5"},{"x":1.1,"g":4.9,"s":"J/γ = 0.5"},{"x":1.17,"g":4.1,"s":"J/γ = 0.5"},{"x":1.25,"g":3.1,"s":"J/γ = 0.5"},{"x":1.34,"g":2.2,"s":"J/γ = 0.5"},{"x":1.42,"g":1.65,"s":"J/γ = 0.5"},{"x":1.5,"g":1.28,"s":"J/γ = 0.5"},{"x":1.6,"g":1.02,"s":"J/γ = 0.5"},{"x":1.67,"g":0.91,"s":"J/γ = 0.5"},{"x":1.75,"g":0.82,"s":"J/γ = 0.5"},{"x":1.83,"g":0.76,"s":"J/γ = 0.5"},{"x":1.92,"g":0.73,"s":"J/γ = 0.5"},{"x":2.0,"g":0.72,"s":"J/γ = 0.5"},
{"x":-2,"g":1.87,"s":"J/γ = 0.85"},{"x":-1.75,"g":1.95,"s":"J/γ = 0.85"},{"x":-1.52,"g":1.98,"s":"J/γ = 0.85"},{"x":-1.36,"g":1.8,"s":"J/γ = 0.85"},{"x":-1.25,"g":1.5,"s":"J/γ = 0.85"},{"x":-1.14,"g":1.2,"s":"J/γ = 0.85"},{"x":-0.97,"g":0.87,"s":"J/γ = 0.85"},{"x":-0.85,"g":0.75,"s":"J/γ = 0.85"},{"x":-0.75,"g":0.65,"s":"J/γ = 0.85"},{"x":-0.64,"g":0.52,"s":"J/γ = 0.85"},{"x":-0.53,"g":0.4,"s":"J/γ = 0.85"},{"x":-0.37,"g":0.28,"s":"J/γ = 0.85"},{"x":-0.2,"g":0.23,"s":"J/γ = 0.85"},{"x":0.02,"g":0.21,"s":"J/γ = 0.85"},{"x":0.12,"g":0.19,"s":"J/γ = 0.85"},{"x":0.18,"g":0.16,"s":"J/γ = 0.85"},{"x":0.26,"g":0.12,"s":"J/γ = 0.85"},{"x":0.32,"g":0.089,"s":"J/γ = 0.85"},{"x":0.38,"g":0.06,"s":"J/γ = 0.85"},{"x":0.43,"g":0.032,"s":"J/γ = 0.85"},{"x":0.46,"g":0.015,"s":"J/γ = 0.85"},{"x":0.49,"g":0.0076,"s":"J/γ = 0.85"},{"x":0.52,"g":0.012,"s":"J/γ = 0.85"},{"x":0.57,"g":0.037,"s":"J/γ = 0.85"},{"x":0.62,"g":0.1,"s":"J/γ = 0.85"},{"x":0.68,"g":0.25,"s":"J/γ = 0.85"},{"x":0.74,"g":0.5,"s":"J/γ = 0.85"},{"x":0.79,"g":0.79,"s":"J/γ = 0.85"},{"x":0.86,"g":1.2,"s":"J/γ = 0.85"},{"x":0.93,"g":1.68,"s":"J/γ = 0.85"},{"x":1.0,"g":2.1,"s":"J/γ = 0.85"},{"x":1.09,"g":2.37,"s":"J/γ = 0.85"},{"x":1.18,"g":2.3,"s":"J/γ = 0.85"},{"x":1.28,"g":2.06,"s":"J/γ = 0.85"},{"x":1.4,"g":1.6,"s":"J/γ = 0.85"},{"x":1.5,"g":1.28,"s":"J/γ = 0.85"},{"x":1.6,"g":1.08,"s":"J/γ = 0.85"},{"x":1.67,"g":1.0,"s":"J/γ = 0.85"},{"x":1.75,"g":0.9,"s":"J/γ = 0.85"},{"x":1.83,"g":0.79,"s":"J/γ = 0.85"},{"x":1.92,"g":0.73,"s":"J/γ = 0.85"},{"x":2.0,"g":0.69,"s":"J/γ = 0.85"},
{"x":-2,"g":1.8,"s":"J/γ = 1.0"},{"x":-1.75,"g":1.88,"s":"J/γ = 1.0"},{"x":-1.52,"g":1.93,"s":"J/γ = 1.0"},{"x":-1.36,"g":1.68,"s":"J/γ = 1.0"},{"x":-1.25,"g":1.4,"s":"J/γ = 1.0"},{"x":-1.14,"g":1.12,"s":"J/γ = 1.0"},{"x":-0.97,"g":0.91,"s":"J/γ = 1.0"},{"x":-0.86,"g":0.83,"s":"J/γ = 1.0"},{"x":-0.78,"g":0.88,"s":"J/γ = 1.0"},{"x":-0.7,"g":0.97,"s":"J/γ = 1.0"},{"x":-0.53,"g":1.37,"s":"J/γ = 1.0"},{"x":-0.31,"g":2.06,"s":"J/γ = 1.0"},{"x":-0.09,"g":2.7,"s":"J/γ = 1.0"},{"x":0.05,"g":2.98,"s":"J/γ = 1.0"},{"x":0.12,"g":2.8,"s":"J/γ = 1.0"},{"x":0.18,"g":2.37,"s":"J/γ = 1.0"},{"x":0.24,"g":1.8,"s":"J/γ = 1.0"},{"x":0.29,"g":1.19,"s":"J/γ = 1.0"},{"x":0.34,"g":0.65,"s":"J/γ = 1.0"},{"x":0.38,"g":0.37,"s":"J/γ = 1.0"},{"x":0.42,"g":0.18,"s":"J/γ = 1.0"},{"x":0.46,"g":0.095,"s":"J/γ = 1.0"},{"x":0.5,"g":0.059,"s":"J/γ = 1.0"},{"x":0.54,"g":0.09,"s":"J/γ = 1.0"},{"x":0.57,"g":0.16,"s":"J/γ = 1.0"},{"x":0.62,"g":0.28,"s":"J/γ = 1.0"},{"x":0.68,"g":0.43,"s":"J/γ = 1.0"},{"x":0.74,"g":0.62,"s":"J/γ = 1.0"},{"x":0.79,"g":0.72,"s":"J/γ = 1.0"},{"x":0.85,"g":0.75,"s":"J/γ = 1.0"},{"x":0.9,"g":0.74,"s":"J/γ = 1.0"},{"x":1.0,"g":0.7,"s":"J/γ = 1.0"},{"x":1.12,"g":0.65,"s":"J/γ = 1.0"},{"x":1.25,"g":0.6,"s":"J/γ = 1.0"},{"x":1.34,"g":0.57,"s":"J/γ = 1.0"},{"x":1.5,"g":0.56,"s":"J/γ = 1.0"},{"x":1.61,"g":0.56,"s":"J/γ = 1.0"},{"x":1.75,"g":0.58,"s":"J/γ = 1.0"},{"x":1.9,"g":0.6,"s":"J/γ = 1.0"},{"x":2.0,"g":0.6,"s":"J/γ = 1.0"}
      ]},
      "mark": {"type": "line", "strokeWidth": 2, "interpolate": "monotone"},
      "encoding": {
        "x": {"field": "x", "type": "quantitative", "scale": {"domain": [-2, 2], "nice": false}, "axis": {"values": [-2, -1, 0, 1, 2], "format": "d", "labelFont": "Liberation Serif", "labelFontSize": 14, "labelPadding": 6, "title": "Δ/γ", "titlePadding": 3}},
        "y": {"field": "g", "type": "quantitative", "scale": {"type": "log", "domain": [0.005, 10], "nice": false}, "axis": {"values": [0.005, 0.006, 0.007, 0.008, 0.009, 0.01, 0.02, 0.03, 0.04, 0.05, 0.06, 0.07, 0.08, 0.09, 0.1, 0.2, 0.3, 0.4, 0.5, 0.6, 0.7, 0.8, 0.9, 1, 2, 3, 4, 5, 6, 7, 8, 9, 10], "tickSize": -3, "labelPadding": 11, "labelExpr": "datum.value == 10 ? '10¹' : datum.value == 1 ? '10⁰' : datum.value == 0.1 ? '10⁻¹' : datum.value == 0.01 ? '10⁻²' : ''", "labelFont": "Liberation Serif", "labelFontSize": 15, "title": "gᵦ⁽²⁾(0)", "titlePadding": 4}},
        "color": {"field": "s", "type": "nominal", "sort": null, "scale": {"domain": ["J/γ = 0.5", "J/γ = 0.85", "J/γ = 1.0"], "range": ["black", "red", "blue"]}, "legend": {"title": null, "orient": "none", "legendX": 19, "legendY": 132, "symbolType": "M-2,0H2", "symbolSize": 100, "symbolStrokeWidth": 2, "labelFont": "Liberation Serif", "labelFontStyle": "italic", "labelFontSize": 14, "labelOffset": 10, "rowPadding": 0, "padding": 0}},
        "strokeDash": {"field": "s", "type": "nominal", "sort": null, "scale": {"domain": ["J/γ = 0.5", "J/γ = 0.85", "J/γ = 1.0"], "range": [[1, 0], [5, 3], [2, 1.5]]}, "legend": {"title": null, "orient": "none", "legendX": 19, "legendY": 132, "symbolType": "M-2,0H2", "symbolSize": 100, "symbolStrokeWidth": 2, "labelFont": "Liberation Serif", "labelFontStyle": "italic", "labelFontSize": 14, "labelOffset": 10, "rowPadding": 0, "padding": 0}}
      }
    },
    {
      "data": {"values": [{"lab": "(c)"}]},
      "mark": {"type": "text", "color": "black", "fontSize": 16, "font": "DejaVu Sans", "align": "left", "baseline": "middle"},
      "encoding": {
        "x": {"datum": -1.88, "type": "quantitative", "axis": {"orient": "top", "values": [-2, -1, 0, 1, 2], "labels": false, "title": null}},
        "y": {"datum": 5.2, "type": "quantitative", "axis": {"orient": "right", "values": [0.005, 0.006, 0.007, 0.008, 0.009, 0.01, 0.02, 0.03, 0.04, 0.05, 0.06, 0.07, 0.08, 0.09, 0.1, 0.2, 0.3, 0.4, 0.5, 0.6, 0.7, 0.8, 0.9, 1, 2, 3, 4, 5, 6, 7, 8, 9, 10], "tickSize": -3, "labels": false, "title": null}},
        "text": {"field": "lab"}}
    }
    ],
    "resolve": {"axis": {"x": "independent", "y": "independent"}}
  },
  {
    "width": 242, "height": 195,
    "layer": [
    {
      "data": {"values": [{"g": 1}]},
      "mark": {"type": "rule", "color": "black", "strokeDash": [6, 4], "strokeWidth": 1.5},
      "encoding": {"y": {"field": "g", "type": "quantitative", "scale": {"type": "log", "domain": [0.1, 7.3], "nice": false}, "axis": null}}
    },
    {
      "data": {"values": [
{"x":-2,"g":1.78,"s":"J/γ = 0.5"},{"x":-1.75,"g":1.95,"s":"J/γ = 0.5"},{"x":-1.52,"g":2.14,"s":"J/γ = 0.5"},{"x":-1.25,"g":2.48,"s":"J/γ = 0.5"},{"x":-1.1,"g":2.8,"s":"J/γ = 0.5"},{"x":-0.97,"g":3.1,"s":"J/γ = 0.5"},{"x":-0.86,"g":3.26,"s":"J/γ = 0.5"},{"x":-0.8,"g":3.1,"s":"J/γ = 0.5"},{"x":-0.75,"g":2.77,"s":"J/γ = 0.5"},{"x":-0.69,"g":2.1,"s":"J/γ = 0.5"},{"x":-0.64,"g":1.54,"s":"J/γ = 0.5"},{"x":-0.6,"g":1.15,"s":"J/γ = 0.5"},{"x":-0.56,"g":0.92,"s":"J/γ = 0.5"},{"x":-0.53,"g":0.8,"s":"J/γ = 0.5"},{"x":-0.5,"g":0.74,"s":"J/γ = 0.5"},{"x":-0.46,"g":0.8,"s":"J/γ = 0.5"},{"x":-0.42,"g":0.92,"s":"J/γ = 0.5"},{"x":-0.38,"g":1.06,"s":"J/γ = 0.5"},{"x":-0.34,"g":1.19,"s":"J/γ = 0.5"},{"x":-0.28,"g":1.29,"s":"J/γ = 0.5"},{"x":-0.23,"g":1.33,"s":"J/γ = 0.5"},{"x":-0.16,"g":1.3,"s":"J/γ = 0.5"},{"x":-0.09,"g":1.22,"s":"J/γ = 0.5"},{"x":0.0,"g":1.1,"s":"J/γ = 0.5"},{"x":0.13,"g":0.92,"s":"J/γ = 0.5"},{"x":0.25,"g":0.78,"s":"J/γ = 0.5"},{"x":0.4,"g":0.66,"s":"J/γ = 0.5"},{"x":0.55,"g":0.58,"s":"J/γ = 0.5"},{"x":0.68,"g":0.52,"s":"J/γ = 0.5"},{"x":0.85,"g":0.49,"s":"J/γ = 0.5"},{"x":1.0,"g":0.495,"s":"J/γ = 0.5"},{"x":1.12,"g":0.51,"s":"J/γ = 0.5"},{"x":1.3,"g":0.53,"s":"J/γ = 0.5"},{"x":1.5,"g":0.56,"s":"J/γ = 0.5"},{"x":1.75,"g":0.6,"s":"J/γ = 0.5"},{"x":2.0,"g":0.64,"s":"J/γ = 0.5"},
{"x":-2,"g":1.85,"s":"J/γ = 0.85"},{"x":-1.75,"g":2.0,"s":"J/γ = 0.85"},{"x":-1.52,"g":2.22,"s":"J/γ = 0.85"},{"x":-1.25,"g":2.48,"s":"J/γ = 0.85"},{"x":-1.1,"g":2.7,"s":"J/γ = 0.85"},{"x":-0.97,"g":2.98,"s":"J/γ = 0.85"},{"x":-0.89,"g":3.1,"s":"J/γ = 0.85"},{"x":-0.83,"g":2.85,"s":"J/γ = 0.85"},{"x":-0.78,"g":2.39,"s":"J/γ = 0.85"},{"x":-0.74,"g":1.8,"s":"J/γ = 0.85"},{"x":-0.7,"g":1.24,"s":"J/γ = 0.85"},{"x":-0.65,"g":0.75,"s":"J/γ = 0.85"},{"x":-0.61,"g":0.51,"s":"J/γ = 0.85"},{"x":-0.57,"g":0.33,"s":"J/γ = 0.85"},{"x":-0.54,"g":0.23,"s":"J/γ = 0.85"},{"x":-0.49,"g":0.19,"s":"J/γ = 0.85"},{"x":-0.45,"g":0.22,"s":"J/γ = 0.85"},{"x":-0.42,"g":0.27,"s":"J/γ = 0.85"},{"x":-0.38,"g":0.35,"s":"J/γ = 0.85"},{"x":-0.34,"g":0.44,"s":"J/γ = 0.85"},{"x":-0.28,"g":0.56,"s":"J/γ = 0.85"},{"x":-0.23,"g":0.69,"s":"J/γ = 0.85"},{"x":-0.16,"g":0.86,"s":"J/γ = 0.85"},{"x":-0.09,"g":1.03,"s":"J/γ = 0.85"},{"x":0.02,"g":1.17,"s":"J/γ = 0.85"},{"x":0.1,"g":1.18,"s":"J/γ = 0.85"},{"x":0.24,"g":1.15,"s":"J/γ = 0.85"},{"x":0.4,"g":1.15,"s":"J/γ = 0.85"},{"x":0.5,"g":1.05,"s":"J/γ = 0.85"},{"x":0.57,"g":0.92,"s":"J/γ = 0.85"},{"x":0.68,"g":0.75,"s":"J/γ = 0.85"},{"x":0.79,"g":0.64,"s":"J/γ = 0.85"},{"x":0.9,"g":0.58,"s":"J/γ = 0.85"},{"x":1.01,"g":0.54,"s":"J/γ = 0.85"},{"x":1.23,"g":0.52,"s":"J/γ = 0.85"},{"x":1.4,"g":0.54,"s":"J/γ = 0.85"},{"x":1.61,"g":0.57,"s":"J/γ = 0.85"},{"x":1.8,"g":0.6,"s":"J/γ = 0.85"},{"x":2.0,"g":0.62,"s":"J/γ = 0.85"},
{"x":-2,"g":1.92,"s":"J/γ = 1.0"},{"x":-1.75,"g":2.05,"s":"J/γ = 1.0"},{"x":-1.52,"g":2.14,"s":"J/γ = 1.0"},{"x":-1.25,"g":2.22,"s":"J/γ = 1.0"},{"x":-1.1,"g":2.5,"s":"J/γ = 1.0"},{"x":-0.97,"g":2.87,"s":"J/γ = 1.0"},{"x":-0.89,"g":3.03,"s":"J/γ = 1.0"},{"x":-0.85,"g":2.7,"s":"J/γ = 1.0"},{"x":-0.81,"g":2.07,"s":"J/γ = 1.0"},{"x":-0.76,"g":1.4,"s":"J/γ = 1.0"},{"x":-0.72,"g":0.92,"s":"J/γ = 1.0"},{"x":-0.68,"g":0.6,"s":"J/γ = 1.0"},{"x":-0.64,"g":0.38,"s":"J/γ = 1.0"},{"x":-0.6,"g":0.25,"s":"J/γ = 1.0"},{"x":-0.56,"g":0.16,"s":"J/γ = 1.0"},{"x":-0.5,"g":0.127,"s":"J/γ = 1.0"},{"x":-0.46,"g":0.16,"s":"J/γ = 1.0"},{"x":-0.43,"g":0.21,"s":"J/γ = 1.0"},{"x":-0.38,"g":0.29,"s":"J/γ = 1.0"},{"x":-0.34,"g":0.38,"s":"J/γ = 1.0"},{"x":-0.27,"g":0.52,"s":"J/γ = 1.0"},{"x":-0.2,"g":0.69,"s":"J/γ = 1.0"},{"x":-0.12,"g":0.85,"s":"J/γ = 1.0"},{"x":-0.04,"g":1.0,"s":"J/γ = 1.0"},{"x":0.13,"g":1.17,"s":"J/γ = 1.0"},{"x":0.25,"g":1.22,"s":"J/γ = 1.0"},{"x":0.35,"g":1.24,"s":"J/γ = 1.0"},{"x":0.45,"g":1.22,"s":"J/γ = 1.0"},{"x":0.57,"g":1.15,"s":"J/γ = 1.0"},{"x":0.68,"g":1.02,"s":"J/γ = 1.0"},{"x":0.79,"g":0.89,"s":"J/γ = 1.0"},{"x":0.9,"g":0.75,"s":"J/γ = 1.0"},{"x":1.01,"g":0.64,"s":"J/γ = 1.0"},{"x":1.12,"g":0.57,"s":"J/γ = 1.0"},{"x":1.23,"g":0.53,"s":"J/γ = 1.0"},{"x":1.4,"g":0.54,"s":"J/γ = 1.0"},{"x":1.6,"g":0.57,"s":"J/γ = 1.0"},{"x":1.8,"g":0.6,"s":"J/γ = 1.0"},{"x":2.0,"g":0.62,"s":"J/γ = 1.0"}
      ]},
      "mark": {"type": "line", "strokeWidth": 2, "interpolate": "monotone"},
      "encoding": {
        "x": {"field": "x", "type": "quantitative", "scale": {"domain": [-2, 2], "nice": false}, "axis": {"values": [-2, -1, 0, 1, 2], "format": "d", "labelFont": "Liberation Serif", "labelFontSize": 14, "labelPadding": 6, "title": "Δ/γ", "titlePadding": 3}},
        "y": {"field": "g", "type": "quantitative", "scale": {"type": "log", "domain": [0.1, 7.3], "nice": false}, "axis": {"values": [0.1, 0.2, 0.3, 0.4, 0.5, 0.6, 0.7, 0.8, 0.9, 1, 2, 3, 4, 5, 6, 7], "tickSize": -3, "labelPadding": 11, "labelExpr": "datum.value == 1 ? '10⁰' : datum.value == 0.1 ? '10⁻¹' : ''", "labelFont": "Liberation Serif", "labelFontSize": 15, "title": "gᵦ⁽²⁾(0)", "titlePadding": 4}},
        "color": {"field": "s", "type": "nominal", "sort": null, "scale": {"domain": ["J/γ = 0.5", "J/γ = 0.85", "J/γ = 1.0"], "range": ["black", "red", "blue"]}, "legend": {"title": null, "orient": "none", "legendX": 145, "legendY": 142, "symbolType": "M-1.9,0H1.9", "symbolSize": 100, "symbolStrokeWidth": 2, "labelFont": "Liberation Serif", "labelFontStyle": "italic", "labelFontSize": 14, "labelOffset": 6, "rowPadding": 0, "padding": 0}},
        "strokeDash": {"field": "s", "type": "nominal", "sort": null, "scale": {"domain": ["J/γ = 0.5", "J/γ = 0.85", "J/γ = 1.0"], "range": [[1, 0], [5, 3], [2, 1.5]]}, "legend": {"title": null, "orient": "none", "legendX": 145, "legendY": 142, "symbolType": "M-1.9,0H1.9", "symbolSize": 100, "symbolStrokeWidth": 2, "labelFont": "Liberation Serif", "labelFontStyle": "italic", "labelFontSize": 14, "labelOffset": 6, "rowPadding": 0, "padding": 0}}
      }
    },
    {
      "data": {"values": [{"lab": "(d)"}]},
      "mark": {"type": "text", "color": "black", "fontSize": 16, "font": "DejaVu Sans", "align": "left", "baseline": "middle"},
      "encoding": {
        "x": {"datum": -1.9, "type": "quantitative", "axis": {"orient": "top", "values": [-2, -1, 0, 1, 2], "labels": false, "title": null}},
        "y": {"datum": 4.14, "type": "quantitative", "axis": {"orient": "right", "values": [0.1, 0.2, 0.3, 0.4, 0.5, 0.6, 0.7, 0.8, 0.9, 1, 2, 3, 4, 5, 6, 7], "tickSize": -3, "labels": false, "title": null}},
        "text": {"field": "lab"}}
    }
    ],
    "resolve": {"axis": {"x": "independent", "y": "independent"}}
  }
  ],
  "spacing": 36,
  "center": true,
  "resolve": {"scale": {"color": "independent", "strokeDash": "independent", "x": "independent", "y": "independent"}, "axis": {"x": "independent", "y": "independent"}, "legend": {"color": "independent", "strokeDash": "independent"}}
}
]
}
